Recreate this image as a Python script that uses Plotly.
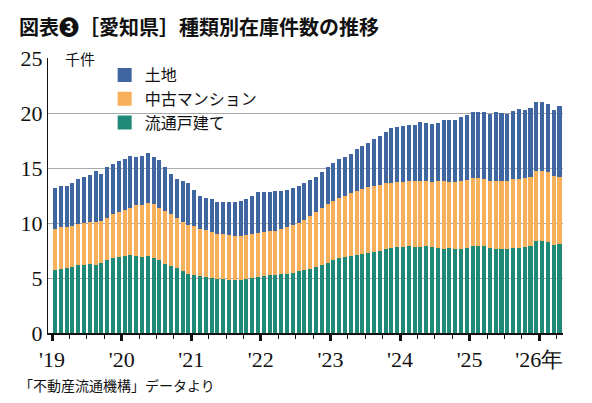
import plotly.graph_objects as go

totals = [13.2,13.4,13.4,13.6,14.0,14.2,14.4,14.7,14.5,15.1,15.4,15.6,
          15.8,16.1,16.0,16.1,16.4,16.0,15.7,15.1,14.5,14.0,13.8,13.6,
          13.0,12.5,12.3,12.2,11.9,11.9,11.9,11.9,12.0,12.2,12.5,12.8,
          12.8,12.8,12.9,12.9,13.0,13.2,13.4,13.6,13.9,14.2,14.6,15.1,
          15.5,15.8,16.0,16.3,16.7,17.0,17.3,17.6,17.9,18.3,18.6,18.7,
          18.8,18.9,18.9,19.2,19.1,19.0,19.1,19.4,19.4,19.4,19.6,19.8,
          20.1,20.1,20.1,19.9,20.1,20.0,19.9,20.2,20.4,20.3,20.5,21.0,
          21.0,20.8,20.3,20.6]
green = [5.7,5.8,5.9,6.0,6.2,6.2,6.3,6.2,6.4,6.6,6.8,6.9,
         7.0,7.1,7.0,6.9,7.0,6.8,6.6,6.3,6.1,5.9,5.6,5.4,
         5.3,5.2,5.1,5.0,4.9,4.9,4.8,4.8,4.8,4.9,5.0,5.1,
         5.2,5.3,5.3,5.4,5.4,5.5,5.6,5.7,5.8,6.0,6.2,6.4,
         6.6,6.8,6.9,7.0,7.1,7.2,7.3,7.4,7.5,7.6,7.7,7.8,
         7.8,7.9,7.8,7.8,7.9,7.8,7.7,7.6,7.7,7.6,7.6,7.7,
         7.9,7.9,7.9,7.7,7.6,7.6,7.6,7.7,7.7,7.8,7.9,8.4,
         8.4,8.3,8.0,8.1]
orange = [3.8,3.8,3.7,3.7,3.7,3.8,3.8,3.9,3.8,3.9,4.0,4.1,
          4.2,4.3,4.6,4.7,4.8,4.9,4.8,4.8,4.7,4.6,4.5,4.4,
          4.4,4.3,4.3,4.2,4.1,4.1,4.1,4.0,4.0,4.0,4.0,4.0,
          4.0,4.0,4.0,4.1,4.2,4.3,4.4,4.6,4.8,5.0,5.2,5.3,
          5.4,5.5,5.6,5.7,5.8,5.9,6.0,6.0,6.0,6.0,5.9,5.9,
          5.9,5.9,6.0,6.0,5.9,5.9,6.1,6.2,6.0,6.1,6.2,6.2,
          6.2,6.2,6.1,6.1,6.2,6.2,6.2,6.3,6.3,6.3,6.3,6.3,
          6.3,6.3,6.3,6.1]
land = [round(t - g - o, 2) for t, g, o in zip(totals, green, orange)]
year_labels = ["'19", "'20", "'21", "'22", "'23", "'24", "'25", "'26年"]
names = ["土地", "中古マンション", "流通戸建て"]
colors = ["#3f66a0", "#f8b05a", "#1f8a78"]

x = list(range(len(totals)))
fig = go.Figure()
fig.add_bar(x=x, y=green, name=names[2], marker_color=colors[2], marker_line_width=0, showlegend=False)
fig.add_bar(x=x, y=orange, name=names[1], marker_color=colors[1], marker_line_width=0, showlegend=False)
fig.add_bar(x=x, y=land, name=names[0], marker_color=colors[0], marker_line_width=0, showlegend=False)
for n, c in zip(names, colors):
    fig.add_scatter(x=[None], y=[None], mode="markers", name=n,
                    marker=dict(symbol="square", size=14, color=c))

serif = "Liberation Serif"
fig.update_layout(
    width=592, height=403, barmode="stack", bargap=0.3,
    margin=dict(l=40, r=37, t=50, b=78),
    plot_bgcolor="white", paper_bgcolor="white",
    font=dict(family="Noto Sans CJK JP", color="#111"),
    legend=dict(x=0.11, y=1.0, xanchor="left", yanchor="top", bgcolor="rgba(255,255,255,0)",
                traceorder="normal",
                font=dict(size=16, family="Noto Sans CJK JP"), tracegroupgap=8, itemwidth=30),
    xaxis=dict(range=[-1.2, len(totals) - 0.4], tickmode="array",
               tickvals=[-0.5 + 12 * i for i in range(len(year_labels))],
               ticktext=year_labels, ticks="outside", ticklen=6, tickwidth=3, tickcolor="#111",
               showline=True, linecolor="#111", linewidth=1.5, showgrid=False, zeroline=False,
               tickfont=dict(family=serif, size=22, color="#111"),
               minor=dict(tickmode="array", tickvals=[-0.5 + 3 * i for i in range(30)],
                          ticks="outside", ticklen=4, tickwidth=1, tickcolor="#111")),
    yaxis=dict(range=[0, 25], tickvals=[0, 5, 10, 15, 20, 25], showgrid=True,
               gridcolor="#aaaaaa", gridwidth=1, zeroline=False, showline=True, linecolor="#111",
               tickfont=dict(family=serif, size=22, color="#111"), ticks=""),
    annotations=[
        dict(text="<b>図表❸［愛知県］種類別在庫件数の推移</b>", xref="paper", yref="paper",
             x=-0.06, y=1.0, yshift=48, xanchor="left", yanchor="top", showarrow=False,
             font=dict(size=20, color="#111")),
        dict(text="千件", xref="paper", yref="paper", x=0.03, y=1.0, xanchor="left", yanchor="middle",
             showarrow=False, font=dict(size=15, color="#111")),
        dict(text="「不動産流通機構」データより", xref="paper", yref="paper", x=-0.06, y=0,
             yshift=-40, xanchor="left", yanchor="top", showarrow=False, font=dict(size=14, color="#111")),
    ],
)
fig.write_html("out.html")
